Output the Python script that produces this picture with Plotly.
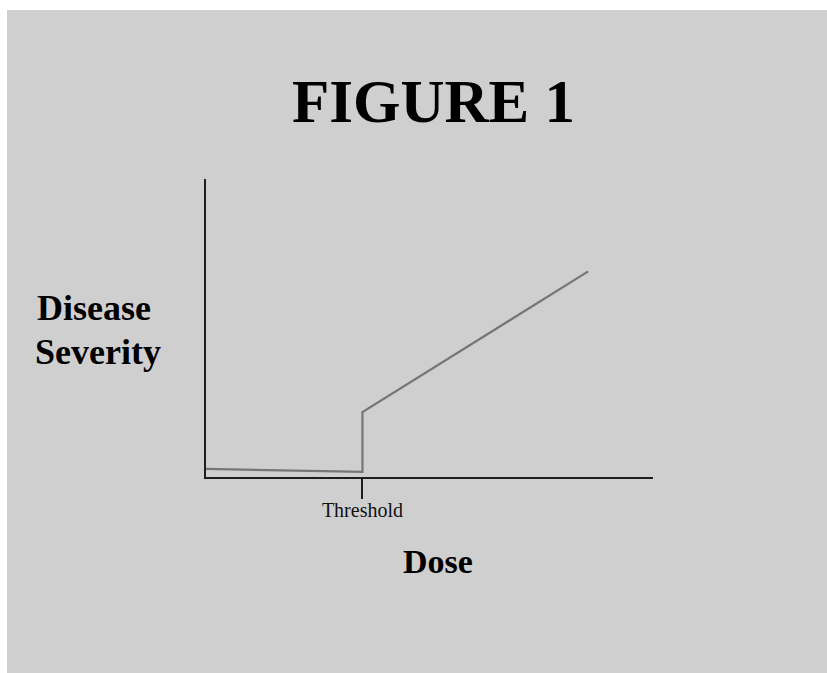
import plotly.graph_objects as go

# Data
dose = [0, 3.5, 3.5, 8.55]
severity = [0.27, 0.17, 2.18, 6.9]
threshold_dose = 3.5
tick_labels = ["Threshold"]

W, H = 827, 673
L, R, T, B = 206, 174, 179, 196
pw, ph = W - L - R, H - T - B

def px_x(p):
    return (p - L) / pw

def px_y(p):
    return (H - B - p) / ph

BG = "#cfcfcf"
SERIF = "Liberation Serif, Times New Roman, serif"

fig = go.Figure()
fig.add_trace(go.Scatter(x=dose, y=severity, mode="lines",
                         line=dict(color="#767676", width=2.2),
                         hoverinfo="skip", showlegend=False))

fig.update_layout(
    width=W, height=H,
    margin=dict(l=L, r=R, t=T, b=B, pad=0),
    paper_bgcolor=BG, plot_bgcolor=BG,
    xaxis=dict(range=[0, 10], showgrid=False, zeroline=False,
               showline=True, linecolor="#1e1e1e", linewidth=2,
               tickmode="array", tickvals=[threshold_dose], ticktext=tick_labels,
               ticks="outside", ticklen=20, tickwidth=2, tickcolor="#1e1e1e",
               ticklabelstandoff=-6,
               tickfont=dict(family=SERIF, size=20, color="#111"),
               fixedrange=True),
    yaxis=dict(range=[0, 10], showgrid=False, zeroline=False,
               showline=True, linecolor="#1e1e1e", linewidth=2,
               showticklabels=False, ticks="", fixedrange=True),
    annotations=[
        dict(text="<b>FIGURE 1</b>", xref="paper", yref="paper",
             x=px_x(433), y=px_y(101), xanchor="center", yanchor="middle",
             showarrow=False, font=dict(family=SERIF, size=61, color="#000")),
        dict(text="<b>Disease</b>", xref="paper", yref="paper",
             x=px_x(35), y=px_y(308), xanchor="left", yanchor="middle",
             showarrow=False, font=dict(family=SERIF, size=36, color="#000")),
        dict(text="<b>Severity</b>", xref="paper", yref="paper",
             x=px_x(33), y=px_y(352), xanchor="left", yanchor="middle",
             showarrow=False, font=dict(family=SERIF, size=36, color="#000")),
        dict(text="<b>Dose</b>", xref="paper", yref="paper",
             x=px_x(438), y=px_y(561), xanchor="center", yanchor="middle",
             showarrow=False, font=dict(family=SERIF, size=34, color="#000")),
    ],
    shapes=[
        dict(type="rect", xref="paper", yref="paper", layer="above",
             x0=px_x(-5), x1=px_x(7), y0=px_y(H + 5), y1=px_y(-5),
             fillcolor="white", line=dict(width=0)),
        dict(type="rect", xref="paper", yref="paper", layer="above",
             x0=px_x(-5), x1=px_x(W + 5), y0=px_y(10), y1=px_y(-5),
             fillcolor="white", line=dict(width=0)),
    ],
)

fig.write_html(
    "out.html",
    config={"displayModeBar": False, "staticPlot": True},
    post_script="document.body.style.margin='0';document.body.style.overflow='hidden';",
)
